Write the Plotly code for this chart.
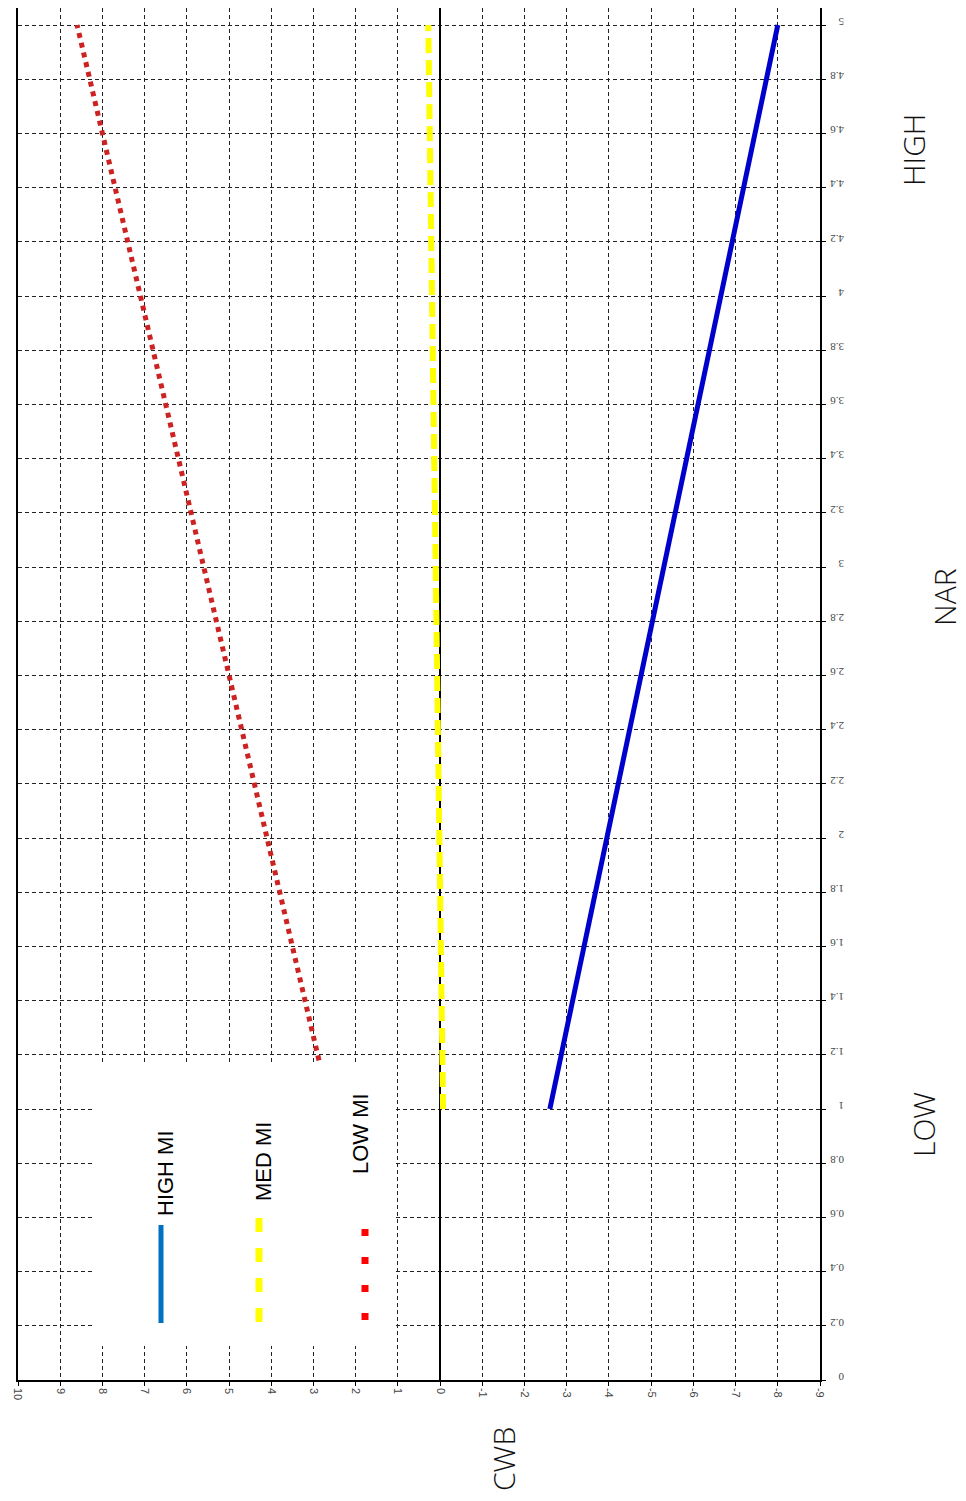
import plotly.graph_objects as go

# ---- data ----
nar = [1, 2, 3, 4, 5]
cwb_high_mi = [-2.6, -3.95, -5.3, -6.65, -8.0]
cwb_med_mi = [-0.07, 0.02, 0.1, 0.19, 0.28]
cwb_low_mi = [2.6, 4.1, 5.6, 7.1, 8.6]

series_names = ["HIGH MI", "MED MI", "LOW MI"]
cwb_ticks = list(range(10, -10, -1))
nar_ticks = [round(i * 0.2, 1) for i in range(26)]
nar_ticktext = ["0" if v == 0 else ("%g" % v) for v in nar_ticks]

OFF = 8  # page body margin of the browser
W, H = 966 - OFF, 1501 - OFF
L, R, T, B = 10, 146, 0, 121
PW, PH = W - L - R, H - T - B
X0, YB = OFF + L, OFF + H - B  # page pixel of plot left / bottom


def px(x):
    return (x - X0) / PW


def py(y):
    return (YB - y) / PH


fig = go.Figure()
fig.add_trace(go.Scatter(x=cwb_med_mi, y=nar, mode="lines", name=series_names[1],
                         line=dict(color="#FFFF00", width=6, dash="15px,7px")))
fig.add_trace(go.Scatter(x=cwb_high_mi, y=nar, mode="lines", name=series_names[0],
                         line=dict(color="#0000CC", width=5)))
fig.add_trace(go.Scatter(x=cwb_low_mi, y=nar, mode="lines", name=series_names[2],
                         line=dict(color="#CC2222", width=5, dash="5px,5px")))

shapes = [
    # white legend box
    dict(type="rect", xref="paper", yref="paper", x0=px(94), x1=px(396), y0=py(1346), y1=py(1063),
         fillcolor="white", line=dict(width=0), layer="above"),
    dict(type="line", xref="paper", yref="paper", x0=px(161), x1=px(161), y0=py(1225), y1=py(1323),
         line=dict(color="#0070C0", width=5), layer="above"),
    dict(type="line", xref="paper", yref="paper", x0=px(259), x1=px(259), y0=py(1218), y1=py(1323),
         line=dict(color="#FFFF00", width=7, dash="14px,16px"), layer="above"),
    dict(type="line", xref="paper", yref="paper", x0=px(365), x1=px(365), y0=py(1229), y1=py(1321),
         line=dict(color="#FF0000", width=7, dash="7px,21px"), layer="above"),
]

leg_font = dict(family="Liberation Sans, Arial", size=22, color="#000")
big_font = dict(family="Open Sans", size=30, color="#111", weight=300)
annotations = [
    dict(text=series_names[0], x=px(165), y=py(1173), font=leg_font),
    dict(text=series_names[1], x=px(263), y=py(1162), font=leg_font),
    dict(text=series_names[2], x=px(360), y=py(1134), font=leg_font),
    dict(text="CWB", x=px(503), y=py(1459), font=big_font),
    dict(text="LOW", x=px(923), y=py(1125), font=big_font),
    dict(text="NAR", x=px(945), y=py(597), font=big_font),
    dict(text="HIGH", x=px(913), y=py(150), font=big_font),
]
for a in annotations:
    a.update(xref="paper", yref="paper", showarrow=False, textangle=-90,
             xanchor="center", yanchor="middle")

fig.update_layout(
    width=W, height=H,
    margin=dict(l=L, r=R, t=T, b=B, pad=0),
    paper_bgcolor="white", plot_bgcolor="white",
    showlegend=False,
    shapes=shapes, annotations=annotations,
    xaxis=dict(
        range=[10, -9], tickmode="array", tickvals=cwb_ticks,
        ticktext=[str(v) for v in cwb_ticks],
        tickangle=90, tickfont=dict(family="Liberation Sans, Arial", size=11, color="#444"),
        showgrid=True, gridcolor="#222", gridwidth=1, griddash="4px,3px",
        zeroline=True, zerolinecolor="#000", zerolinewidth=1.5,
        showline=True, linecolor="#000", linewidth=1.5, mirror=False,
        ticks="outside", ticklen=4, tickcolor="#000", automargin=False,
    ),
    yaxis=dict(
        range=[0, PH / 271.0], side="right", tickmode="array", tickvals=nar_ticks,
        ticktext=nar_ticktext,
        tickangle=180, tickfont=dict(family="Liberation Serif, Times New Roman", size=11, color="#444"),
        ticklabelstandoff=16,
        showgrid=True, gridcolor="#222", gridwidth=1, griddash="4px,3px",
        zeroline=False,
        showline=True, linecolor="#000", linewidth=1.5, mirror=True,
        ticks="outside", ticklen=4, tickcolor="#000", automargin=False,
    ),
)

fig.write_html("out.html")
